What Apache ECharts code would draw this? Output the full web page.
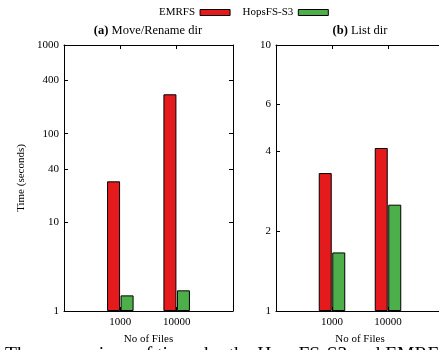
<!DOCTYPE html>
<html>
<head>
<meta charset="utf-8">
<script src="https://cdn.jsdelivr.net/npm/echarts@6/dist/echarts.min.js"></script>
<style>
  html, body { margin: 0; padding: 0; background: #fff; }
  #chart { width: 439px; height: 350px; }
</style>
</head>
<body>
<div id="chart"></div>
<script>
// data
var categories = ['1000', '10000'];
var moveEmrfs = [29, 278];
var moveHops = [1.5, 1.71];
var listEmrfs = [3.3, 4.1];
var listHops = [1.66, 2.51];
var moveTicks = [1, 10, 40, 100, 400, 1000];
var listTicks = [1, 2, 4, 6, 10];

var FONT = 'Liberation Serif';
var RED = '#e41a1c', GREEN = '#4daf4a';

// empty slots either side so the two groups sit on 1/3 and 2/3 of the width
var xCats = [''].concat(categories, ['']);
function pad(arr) { return ['-'].concat(arr, ['-']); }

function xAxisCfg(grid, top) {
  return {
    type: 'category', gridIndex: grid, data: xCats, boundaryGap: false,
    position: top ? 'top' : 'bottom',
    name: top ? '' : 'No of Files', nameLocation: 'middle', nameGap: 23,
    nameTextStyle: { fontFamily: FONT, fontSize: 11, color: '#000' },
    axisLine: { lineStyle: { color: '#000', width: 1 } },
    axisTick: { inside: true, length: 4, interval: 0, lineStyle: { color: '#000' } },
    axisLabel: { show: !top, interval: 0, margin: 6, fontFamily: FONT, fontSize: 11, color: '#000' },
    splitLine: { show: false }
  };
}
function yAxisCfg(grid, right, max, ticks) {
  return {
    type: 'log', logBase: 10, gridIndex: grid, min: 1, max: max,
    position: right ? 'right' : 'left',
    name: (!right && grid === 0) ? 'Time (seconds)' : '',
    nameLocation: 'middle', nameGap: 37,
    nameTextStyle: { fontFamily: FONT, fontSize: 11, color: '#000' },
    axisLine: { show: true, lineStyle: { color: '#000', width: 1 } },
    axisTick: { show: true, inside: true, length: 4, customValues: ticks, lineStyle: { color: '#000' } },
    axisLabel: {
      show: !right, margin: 5, customValues: ticks, fontFamily: FONT, fontSize: 11, color: '#000',
      formatter: function (v) { return String(Math.round(v)); }
    },
    minorTick: { show: false },
    splitLine: { show: false }
  };
}
function bar(name, grid, data, color) {
  return {
    name: name, type: 'bar', xAxisIndex: grid * 2, yAxisIndex: grid * 2,
    data: pad(data), barWidth: 13, barGap: '4%',
    itemStyle: { color: color, borderColor: '#000', borderWidth: 1 },
    emphasis: { disabled: true }
  };
}

var chart = echarts.init(document.getElementById('chart'));
chart.setOption({
  animation: false,
  backgroundColor: '#fff',
  textStyle: { fontFamily: FONT },
  legend: {
    data: ['EMRFS', 'HopsFS-S3'], left: 154, top: 2, align: 'right',
    icon: 'rect', itemWidth: 30, itemHeight: 6, itemGap: 12,
    itemStyle: { borderColor: '#000', borderWidth: 1 },
    textStyle: { fontFamily: FONT, fontSize: 11, color: '#000' }
  },
  grid: [
    { left: 64, top: 45, width: 169, height: 266, outerBoundsMode: 'none' },
    { left: 276, top: 45, width: 168, height: 266, outerBoundsMode: 'none' }
  ],
  xAxis: [xAxisCfg(0, false), xAxisCfg(0, true), xAxisCfg(1, false), xAxisCfg(1, true)],
  yAxis: [
    yAxisCfg(0, false, 1000, moveTicks), yAxisCfg(0, true, 1000, moveTicks),
    yAxisCfg(1, false, 10, listTicks), yAxisCfg(1, true, 10, listTicks)
  ],
  series: [
    bar('EMRFS', 0, moveEmrfs, RED),
    bar('HopsFS-S3', 0, moveHops, GREEN),
    bar('EMRFS', 1, listEmrfs, RED),
    bar('HopsFS-S3', 1, listHops, GREEN)
  ],
  graphic: [
    { type: 'text', x: 148, y: 31, style: {
      text: '{b|(a)} Move/Rename dir', textAlign: 'center', textVerticalAlign: 'middle',
      font: '12.5px ' + FONT, fill: '#000',
      rich: { b: { fontWeight: 'bold', fontSize: 12.5, fontFamily: FONT } } } },
    { type: 'text', x: 360, y: 31, style: {
      text: '{b|(b)} List dir', textAlign: 'center', textVerticalAlign: 'middle',
      font: '12.5px ' + FONT, fill: '#000',
      rich: { b: { fontWeight: 'bold', fontSize: 12.5, fontFamily: FONT } } } },
    { type: 'text', x: 5, y: 365, style: {
      text: 'The comparison of times by the HopsFS-S3 and EMRFS', textAlign: 'left',
      textVerticalAlign: 'bottom', font: '19.5px ' + FONT, fill: '#000' } }
  ]
});
</script>
</body>
</html>
